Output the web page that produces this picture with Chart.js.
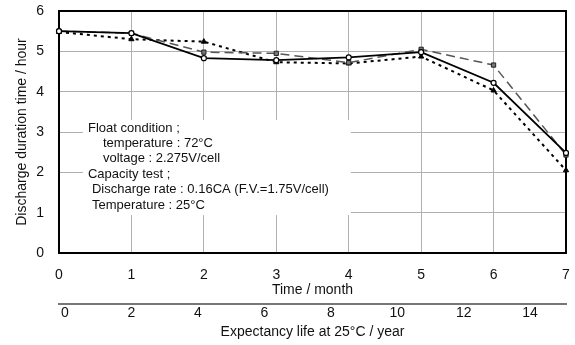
<!DOCTYPE html>
<html>
<head>
<meta charset="utf-8">
<script src="https://cdn.jsdelivr.net/npm/chart.js@4"></script>
<style>
  body { margin: 0; background: #fff; }
  #wrap { width: 575px; height: 345px; }
</style>
</head>
<body>
<div id="wrap"><canvas id="chart"></canvas></div>
<script>
const months = [0, 1, 2, 3, 4, 5, 6, 7];
// three test cells
const solidValues = [5.5, 5.45, 4.83, 4.78, 4.85, 4.98, 4.22, 2.48];
const dashedValues = [5.5, 5.45, 4.98, 4.95, 4.72, 5.05, 4.66, 2.43];
const dottedValues = [5.48, 5.3, 5.24, 4.73, 4.7, 4.87, 4.03, 2.05];

const yTicks = [0, 1, 2, 3, 4, 5, 6];
const yearTicks = [0, 2, 4, 6, 8, 10, 12, 14];

const noteLines = [
  { text: "Float condition ;", indent: 0 },
  { text: "temperature : 72°C", indent: 15 },
  { text: "voltage : 2.275V/cell", indent: 15 },
  { text: "Capacity test ;", indent: 0 },
  { text: "Discharge rate : 0.16CA (F.V.=1.75V/cell)", indent: 4 },
  { text: "Temperature : 25°C", indent: 4 },
];

const FONT = "'Liberation Sans', Arial, sans-serif";

const toPoints = (values) => values.map((v, i) => ({ x: months[i], y: v }));

// tick padding would otherwise be added to the space kept round the plot
const noEdgePadding = (s) => {
  s.paddingTop = 0;
  s.paddingBottom = 0;
  s.paddingLeft = 0;
  s.paddingRight = 0;
};

// white note box over the grid, the note text and the black frame
const notePlugin = {
  id: "note",
  beforeDatasetsDraw(chart) {
    const { ctx, chartArea, scales } = chart;
    const x = scales.x;
    const y = scales.y;
    ctx.save();
    ctx.fillStyle = "#fff";
    const bx = x.getPixelForValue(0.33);
    const by = y.getPixelForValue(3.3);
    ctx.fillRect(bx, by, x.getPixelForValue(4.03) - bx, y.getPixelForValue(0.94) - by);
    // the y=1 line is also hidden left of the box
    ctx.fillRect(chartArea.left + 1, y.getPixelForValue(1.1), bx - chartArea.left, y.getPixelForValue(0.94) - y.getPixelForValue(1.1));

    ctx.fillStyle = "#111";
    ctx.font = "13px " + FONT;
    ctx.textBaseline = "middle";
    const tx = x.getPixelForValue(0.4);
    const ty = y.getPixelForValue(3.1);
    noteLines.forEach((line, i) => {
      ctx.fillText(line.text, tx + line.indent, ty + i * 15.4);
    });

    ctx.strokeStyle = "#000";
    ctx.lineWidth = 2;
    ctx.beginPath();
    ctx.moveTo(chartArea.left, chartArea.top);
    ctx.lineTo(chartArea.right, chartArea.top);
    ctx.lineTo(chartArea.right, chartArea.bottom);
    ctx.stroke();
    ctx.restore();
  },
};

new Chart(document.getElementById("chart"), {
  type: "line",
  data: {
    datasets: [
      {
        data: toPoints(solidValues),
        borderColor: "#000",
        borderWidth: 1.8,
        pointStyle: "circle",
        pointRadius: 2.5,
        pointBackgroundColor: "#fff",
        pointBorderColor: "#000",
        pointBorderWidth: 1.2,
      },
      {
        data: toPoints(dashedValues),
        borderColor: "#555",
        borderWidth: 1.5,
        borderDash: [9, 5],
        pointStyle: "rect",
        pointRadius: 3,
        pointBackgroundColor: "#777",
        pointBorderColor: "#222",
        pointBorderWidth: 1,
      },
      {
        data: toPoints(dottedValues),
        borderColor: "#000",
        borderWidth: 2,
        borderDash: [3, 4],
        pointStyle: "triangle",
        pointRadius: 3,
        pointBackgroundColor: "#000",
        pointBorderColor: "#000",
        pointBorderWidth: 1,
      },
    ],
  },
  options: {
    responsive: true,
    maintainAspectRatio: false,
    animation: false,
    clip: false,
    layout: { autoPadding: false, padding: { top: 11, right: 9, left: 0, bottom: 0 } },
    plugins: {
      legend: { display: false },
      tooltip: { enabled: false },
    },
    scales: {
      x: {
        type: "linear",
        position: "bottom",
        min: 0,
        max: 7,
        afterFit: (s) => { s.height = 51; noEdgePadding(s); },
        afterBuildTicks: (s) => { s.ticks = months.map((v) => ({ value: v })); },
        grid: { color: "#b0b0b0", lineWidth: 1, drawTicks: false },
        border: { display: true, color: "#000", width: 2 },
        ticks: {
          padding: 14,
          maxRotation: 0,
          color: "#111",
          font: { family: FONT, size: 14 },
        },
        title: {
          display: true,
          text: "Time / month",
          color: "#111",
          padding: { top: 0, bottom: 5 },
          font: { family: FONT, size: 14 },
        },
      },
      year: {
        type: "linear",
        position: "bottom",
        min: -0.18,
        max: 15.08,
        afterFit: (s) => { s.height = 41; noEdgePadding(s); },
        afterBuildTicks: (s) => { s.ticks = yearTicks.map((v) => ({ value: v })); },
        grid: { display: true, drawOnChartArea: false, drawTicks: false },
        border: { display: true, color: "#777", width: 2 },
        ticks: {
          padding: 1,
          maxRotation: 0,
          color: "#111",
          font: { family: FONT, size: 14 },
        },
        title: {
          display: true,
          text: "Expectancy life at 25°C / year",
          color: "#111",
          padding: { top: 0, bottom: 4 },
          font: { family: FONT, size: 14 },
        },
      },
      y: {
        min: 0,
        max: 6,
        afterFit: (s) => { s.width = 59; noEdgePadding(s); },
        afterBuildTicks: (s) => { s.ticks = yTicks.map((v) => ({ value: v })); },
        grid: { color: "#b0b0b0", lineWidth: 1, drawTicks: false },
        border: { display: true, color: "#000", width: 2 },
        ticks: {
          padding: 15,
          color: "#111",
          font: { family: FONT, size: 14 },
        },
        title: {
          display: true,
          text: "Discharge duration time / hour",
          color: "#111",
          padding: { top: 14, bottom: 0 },
          font: { family: FONT, size: 14 },
        },
      },
    },
  },
  plugins: [notePlugin],
});
</script>
</body>
</html>
